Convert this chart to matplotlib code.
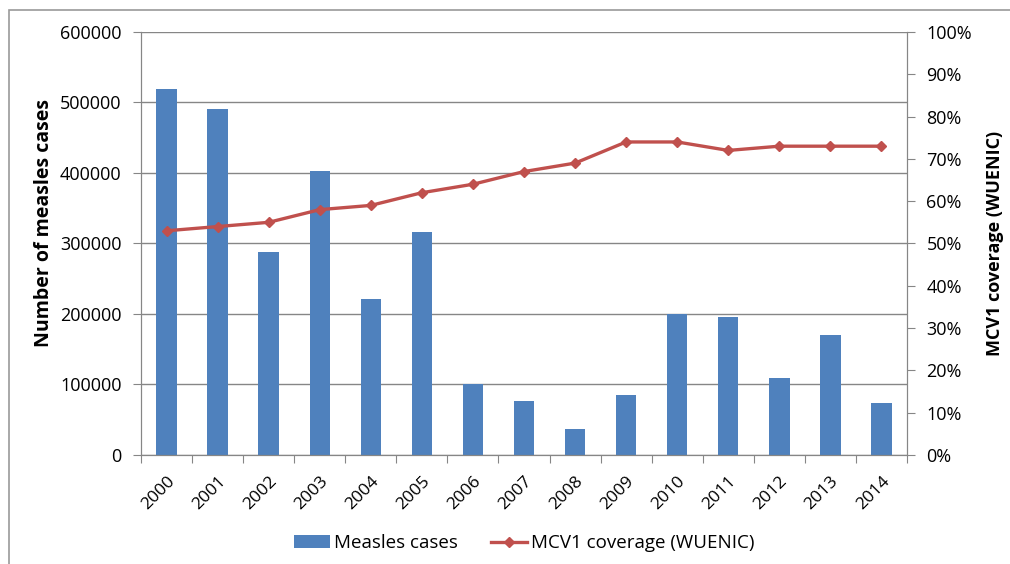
import matplotlib
matplotlib.use("Agg")
import matplotlib.pyplot as plt
from matplotlib.patches import Rectangle
from matplotlib.ticker import FuncFormatter, MultipleLocator

years = ["2000", "2001", "2002", "2003", "2004", "2005", "2006", "2007",
         "2008", "2009", "2010", "2011", "2012", "2013", "2014"]
measles_cases = [519000, 491000, 288000, 403000, 221000, 316000, 101000, 77000,
                 37000, 85000, 200000, 196000, 109000, 170000, 74000]
mcv1_coverage = [53, 54, 55, 58, 59, 62, 64, 67, 69, 74, 74, 72, 73, 73, 73]

plt.rcParams['font.family'] = ['Open Sans', 'DejaVu Sans']

fig = plt.figure(figsize=(10.1, 5.64), dpi=100)
ax = fig.add_axes([0.1396, 0.1933, 0.898 - 0.1396, 0.9433 - 0.1933])
ax2 = ax.twinx()

x = list(range(len(years)))
grid_c = "#868686"
bars = ax.bar(x, measles_cases, width=0.4, color="#4F81BD", zorder=2,
              label="Measles cases")
line, = ax2.plot(x, mcv1_coverage, color="#C0504D", lw=2.4, marker="D",
                 markersize=5.5, label="MCV1 coverage (WUENIC)", zorder=3)

ax.set_xlim(-0.5, len(years) - 0.5)
ax.set_ylim(0, 600000)
ax.yaxis.set_major_locator(MultipleLocator(100000))
ax.yaxis.grid(True, color=grid_c, lw=1)
ax.set_axisbelow(True)
ax2.set_ylim(0, 100)
ax2.yaxis.set_major_locator(MultipleLocator(10))
ax2.yaxis.set_major_formatter(FuncFormatter(lambda v, p: f"{int(round(v))}%"))

ax.set_xticks([i - 0.5 for i in range(len(years) + 1)], minor=False)
ax.set_xticklabels([])
ax.set_xticks(x, minor=True)
ax.set_xticklabels(years, minor=True, rotation=45, ha="right",
                   rotation_mode="anchor", fontsize=12.5)
ax.tick_params(axis="x", which="minor", length=0, pad=13)
ax.tick_params(axis="x", which="major", length=6, color=grid_c, direction="out")
ax.tick_params(axis="y", length=6, color=grid_c, labelsize=13, pad=8)
ax2.tick_params(axis="y", length=6, color=grid_c, labelsize=13, pad=8)

for a in (ax, ax2):
    for s in a.spines.values():
        s.set_color(grid_c)
    a.spines["top"].set_visible(False)

ax.set_ylabel("Number of measles cases", fontsize=14, fontweight="bold")
ax.yaxis.set_label_coords(-0.114, 0.548)
ax2.set_ylabel("MCV1 coverage (WUENIC)", fontsize=13, fontweight="bold", labelpad=10)

fig.legend([bars, line], ["Measles cases", "MCV1 coverage (WUENIC)"],
           loc="center", bbox_to_anchor=(0.519, 0.037), ncol=2, frameon=False,
           fontsize=13.5, handlelength=1.9, handletextpad=0.2, columnspacing=1.8)

fig.patches.append(Rectangle((9 / 1010, -0.05), 1.2, 1 - 10 / 564 + 0.05,
                             transform=fig.transFigure, fill=False,
                             edgecolor="#9a9a9a", lw=1.2))

fig.savefig("out.png", dpi=100)
